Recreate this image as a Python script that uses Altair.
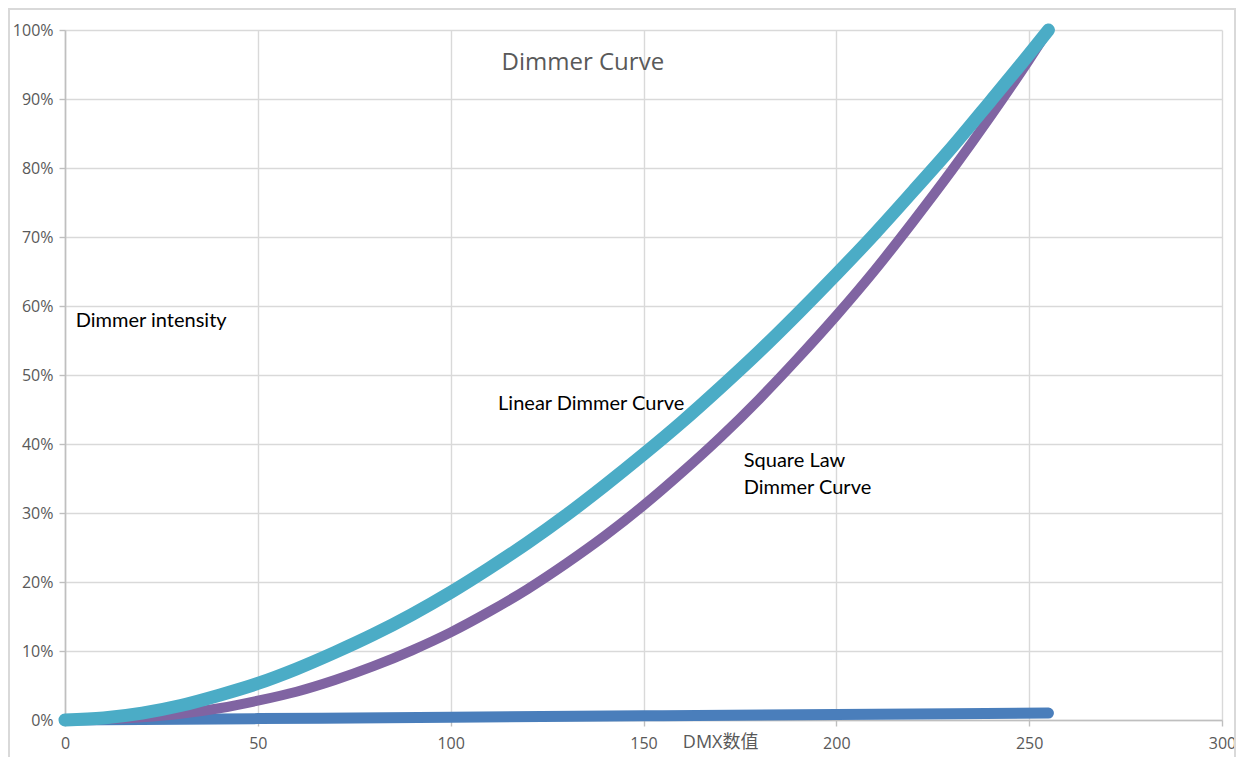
import altair as alt
import pandas as pd

# ---- data ----
dmx = [0, 10, 20, 30, 40, 50, 60, 70, 80, 90, 100, 110, 120, 130, 140, 150,
       160, 170, 180, 190, 200, 210, 220, 230, 240, 250, 255]
linear_pct = [0.0, 0.3, 1.0, 2.1, 3.6, 5.3, 7.4, 9.8, 12.4, 15.3, 18.5, 22.0, 25.7,
              29.7, 34.0, 38.5, 43.2, 48.2, 53.4, 58.9, 64.6, 70.5, 76.7, 83.0,
              89.7, 96.5, 100.0]
square_pct = [0.0, 0.1, 0.4, 0.9, 1.7, 2.8, 4.1, 5.8, 7.8, 10.1, 12.7, 15.7, 19.0,
              22.7, 26.7, 31.1, 35.9, 41.0, 46.5, 52.4, 58.6, 65.2, 72.3, 79.7,
              87.5, 95.7, 100.0]
flat_dmx = [0, 50, 100, 150, 200, 255]
flat_pct = [0.0, 0.2, 0.4, 0.6, 0.8, 1.0]

x_ticks = [0, 50, 100, 150, 200, 250, 300]
y_ticks = [0, 10, 20, 30, 40, 50, 60, 70, 80, 90, 100]

title_text = "Dimmer Curve"
notes_text = ["Dimmer intensity", "Linear Dimmer Curve", "Square Law", "Dimmer Curve"]
notes_x = [2.8, 112.3, 176.0, 176.0]
notes_y = [57.8, 45.8, 37.5, 33.6]
xlabel_text = "DMX数值"

rows = []
for x, v in zip(flat_dmx, flat_pct):
    rows.append({"series": "flat", "dmx": x, "pct": v})
for x, v in zip(dmx, square_pct):
    rows.append({"series": "square", "dmx": x, "pct": v})
for x, v in zip(dmx, linear_pct):
    rows.append({"series": "linear", "dmx": x, "pct": v})
df = pd.DataFrame(rows)

GRID = "#d9d9d9"
AXIS = "#bfbfbf"
LABEL = "#595959"
FONT = "Open Sans"
NOTE_FONT = "Lato"

x_scale = alt.Scale(domain=[0, 300], nice=False, zero=False)
y_scale = alt.Scale(domain=[0, 100], nice=False, zero=False)

x_axis = alt.Axis(values=x_ticks, title=None, grid=True, gridColor=GRID, gridWidth=1.4,
                  domainColor=AXIS, domainWidth=1.6, tickColor=AXIS, tickWidth=1.4,
                  tickSize=6, labelFont=FONT, labelFontSize=16, labelColor=LABEL,
                  labelPadding=9, labelFlush=False)
y_axis = alt.Axis(values=y_ticks, title=None, grid=True, gridColor=GRID, gridWidth=1.4,
                  domainColor=AXIS, domainWidth=1.6, tickColor=AXIS, tickWidth=1.4,
                  tickSize=6, labelFont=FONT, labelFontSize=16, labelColor=LABEL,
                  labelPadding=6, labelExpr="datum.value + '%'")

X = alt.X("dmx:Q", scale=x_scale, axis=x_axis)
Y = alt.Y("pct:Q", scale=y_scale, axis=y_axis)

base = alt.Chart(df)


def curve(series, color, width):
    return base.transform_filter(alt.datum.series == series).mark_line(
        color=color, strokeWidth=width, strokeCap="round", strokeJoin="round",
        interpolate="monotone", clip=False
    ).encode(x=X, y=Y)


flat_line = curve("flat", "#4a7ebb", 11)
square_line = curve("square", "#8064a2", 10)
linear_line = curve("linear", "#4bacc6", 13)

notes_df = pd.DataFrame({"text": notes_text, "dmx": notes_x, "pct": notes_y})
notes = alt.Chart(notes_df).mark_text(
    align="left", baseline="middle", font=NOTE_FONT, fontSize=20, color="#000000"
).encode(x=alt.X("dmx:Q", scale=x_scale), y=alt.Y("pct:Q", scale=y_scale), text="text:N")

title_df = pd.DataFrame({"text": [title_text], "dmx": [113.2], "pct": [95.2]})
title = alt.Chart(title_df).mark_text(
    align="left", baseline="middle", font=FONT, fontSize=24, color=LABEL
).encode(x=alt.X("dmx:Q", scale=x_scale), y=alt.Y("pct:Q", scale=y_scale), text="text:N")

xlabel_df = pd.DataFrame({"text": [xlabel_text], "dmx": [160.2], "pct": [-3.4]})
xlabel = alt.Chart(xlabel_df).mark_text(
    align="left", baseline="middle", font="Open Sans, Noto Sans CJK SC", fontSize=18,
    color=LABEL
).encode(x=alt.X("dmx:Q", scale=x_scale), y=alt.Y("pct:Q", scale=y_scale), text="text:N")

frame = alt.Chart(pd.DataFrame({"k": [0]})).mark_rect(
    filled=False, stroke=GRID, strokeWidth=2
).encode(x=alt.value(-56), x2=alt.value(1170), y=alt.value(-21), y2=alt.value(800))

chart = alt.layer(
    frame, flat_line, square_line, linear_line, notes, title, xlabel
).properties(
    width=1157, height=690,
    padding={"left": 57, "top": 22, "right": 14, "bottom": 42},
    autosize=alt.AutoSizeParams(type="none"),
    background="white",
).configure_view(strokeWidth=0)

chart.save("out.html", embed_options={"renderer": "svg", "actions": False})
